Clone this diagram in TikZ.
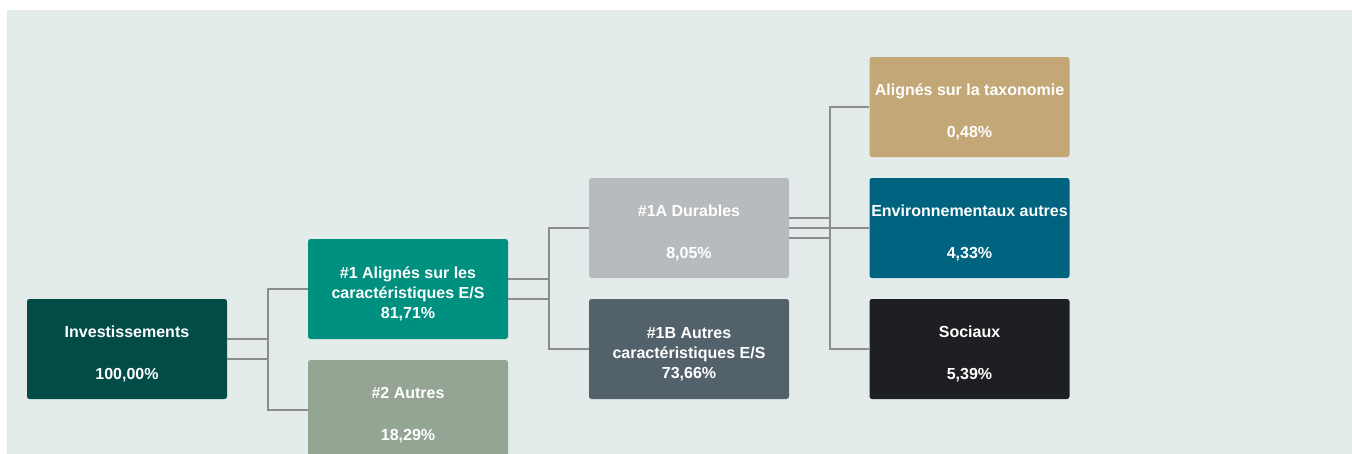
\documentclass[tikz,border=0pt]{standalone}
\usepackage{fontspec}
\setmainfont{Liberation Sans}
\definecolor{panel}{HTML}{E3ECEB}
\definecolor{cInv}{HTML}{024C48}
\definecolor{cUn}{HTML}{00907F}
\definecolor{cDeux}{HTML}{95A594}
\definecolor{cUA}{HTML}{B8BBBE}
\definecolor{cUB}{HTML}{53626A}
\definecolor{cTax}{HTML}{C4A776}
\definecolor{cEnv}{HTML}{00637F}
\definecolor{cSoc}{HTML}{1D1F22}
\definecolor{link}{HTML}{8A8C8D}
\tikzset{
  box/.style={rectangle, rounded corners=2.5pt, minimum width=200pt, minimum height=100pt,
    inner sep=0pt},
  txt/.style={text=white, align=center, inner sep=0pt, yshift=-5pt,
    font=\fontsize{16}{20}\selectfont\bfseries},
  conn/.style={draw=link, line width=1.8pt}
}
\begin{document}
\begin{tikzpicture}[x=1pt,y=-1pt]
\useasboundingbox (0,0) rectangle (1352,453);
\fill[white] (-5,-5) rectangle (1360,460);
\fill[panel] (7,10) rectangle (1360,460);
\begin{scope}
\clip (-5,-5) rectangle (1360,453);
\node[box, fill=cInv, label={[txt]center:Investissements\\[22pt]100,00\%}] (inv) at (127,349) {};
\node[box, fill=cUn, label={[txt]center:\#1 Alignés sur les\\caractéristiques E/S\\81,71\%}] (un) at (408,289) {};
\node[box, fill=cDeux, label={[txt]center:\#2 Autres\\[22pt]18,29\%}] (deux) at (408,410) {};
\node[box, fill=cUA, label={[txt]center:\#1A Durables\\[22pt]8,05\%}] (ua) at (689,228) {};
\node[box, fill=cUB, label={[txt]center:\#1B Autres\\caractéristiques E/S\\73,66\%}] (ub) at (689,349) {};
\node[box, fill=cTax, label={[txt]center:Alignés sur la taxonomie\\[22pt]0,48\%}] (tax) at (969.5,107) {};
\node[box, fill=cEnv, label={[txt]center:Environnementaux autres\\[22pt]4,33\%}] (env) at (969.5,228) {};
\node[box, fill=cSoc, label={[txt]center:Sociaux\\[22pt]5,39\%}] (soc) at (969.5,349) {};
\end{scope}
\coordinate (j1) at (268,0);
\coordinate (j2) at (549,0);
\coordinate (j3) at (830,0);
\draw[conn] ([yshift=-10pt]inv.east) -| (j1 |- un.west) -- (un.west);
\draw[conn] ([yshift=10pt]inv.east) -| (j1 |- deux.west) -- (deux.west);
\draw[conn] ([yshift=-10pt]un.east) -| (j2 |- ua.west) -- (ua.west);
\draw[conn] ([yshift=10pt]un.east) -| (j2 |- ub.west) -- (ub.west);
\draw[conn] ([yshift=-10pt]ua.east) -| (j3 |- tax.west) -- (tax.west);
\draw[conn] (ua.east) -- (env.west);
\draw[conn] ([yshift=10pt]ua.east) -| (j3 |- soc.west) -- (soc.west);
\end{tikzpicture}
\end{document}
